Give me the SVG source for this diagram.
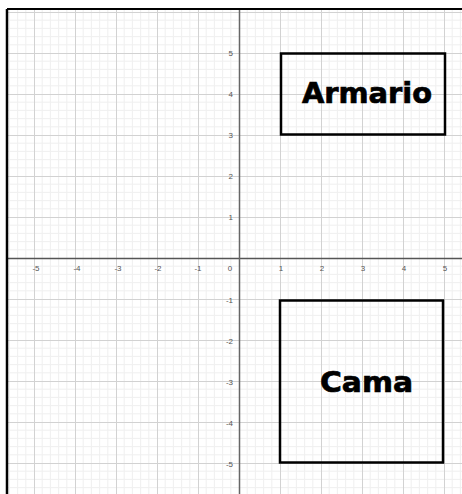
<svg xmlns="http://www.w3.org/2000/svg" width="462" height="494" viewBox="0 0 462 494">
  <style>
    .lbl { font-family: "Liberation Sans", Arial, sans-serif; font-size: 8px; fill: #555; }
    .xl { text-anchor: middle; }
    .yl { text-anchor: end; }
    .box { fill: none; stroke: #000; stroke-width: 2.5; }
    .name { font-family: "DejaVu Sans", "Liberation Sans", sans-serif; font-weight: bold; font-size: 28px; fill: #000; stroke: #000; stroke-width: 0.7; }
  </style>
  <defs>
    <pattern id="grid" patternUnits="userSpaceOnUse" x="239" y="258" width="41" height="41">
      <rect width="41" height="41" fill="#fff"/>
      <path d="M8.2 0V41M16.4 0V41M24.6 0V41M32.8 0V41M0 8.2H41M0 16.4H41M0 24.6H41M0 32.8H41" stroke="#f0f0f0" stroke-width="1"/>
      <path d="M0.5 0V41M0 0.5H41" stroke="#d2d2d2" stroke-width="1"/>
    </pattern>
  </defs>
  <rect width="462" height="494" fill="#fff"/>
  <rect x="7" y="9" width="455" height="485" fill="url(#grid)"/>

  <g id="axes">
    <line x1="7" y1="258.5" x2="462" y2="258.5" stroke="#555" stroke-width="1.3"/>
    <line x1="239.5" y1="9" x2="239.5" y2="494" stroke="#666" stroke-width="1.5"/>
    <line x1="7" y1="9" x2="462" y2="9" stroke="#000" stroke-width="2"/>
    <line x1="7" y1="9" x2="7" y2="494" stroke="#000" stroke-width="2.5"/>
  </g>

  <g id="x-labels" class="lbl xl">
    <text x="36" y="271">-5</text>
    <text x="77" y="271">-4</text>
    <text x="118" y="271">-3</text>
    <text x="158" y="271">-2</text>
    <text x="198" y="271">-1</text>
    <text x="230" y="271">0</text>
    <text x="281" y="271">1</text>
    <text x="322" y="271">2</text>
    <text x="363" y="271">3</text>
    <text x="404" y="271">4</text>
    <text x="445" y="271">5</text>
  </g>
  <g id="y-labels" class="lbl yl">
    <text x="233" y="56">5</text>
    <text x="233" y="97">4</text>
    <text x="233" y="138">3</text>
    <text x="233" y="179">2</text>
    <text x="233" y="220">1</text>
    <text x="233" y="303">-1</text>
    <text x="233" y="344">-2</text>
    <text x="233" y="385">-3</text>
    <text x="233" y="426">-4</text>
    <text x="233" y="467">-5</text>
  </g>

  <g id="armario">
    <rect class="box" x="281" y="53.5" width="164" height="81"/>
    <text class="name" x="302" y="103" textLength="130" lengthAdjust="spacingAndGlyphs">Armario</text>
  </g>
  <g id="cama">
    <rect class="box" x="280" y="300.5" width="163" height="162"/>
    <text class="name" x="320" y="392" textLength="93" lengthAdjust="spacingAndGlyphs">Cama</text>
  </g>
</svg>
